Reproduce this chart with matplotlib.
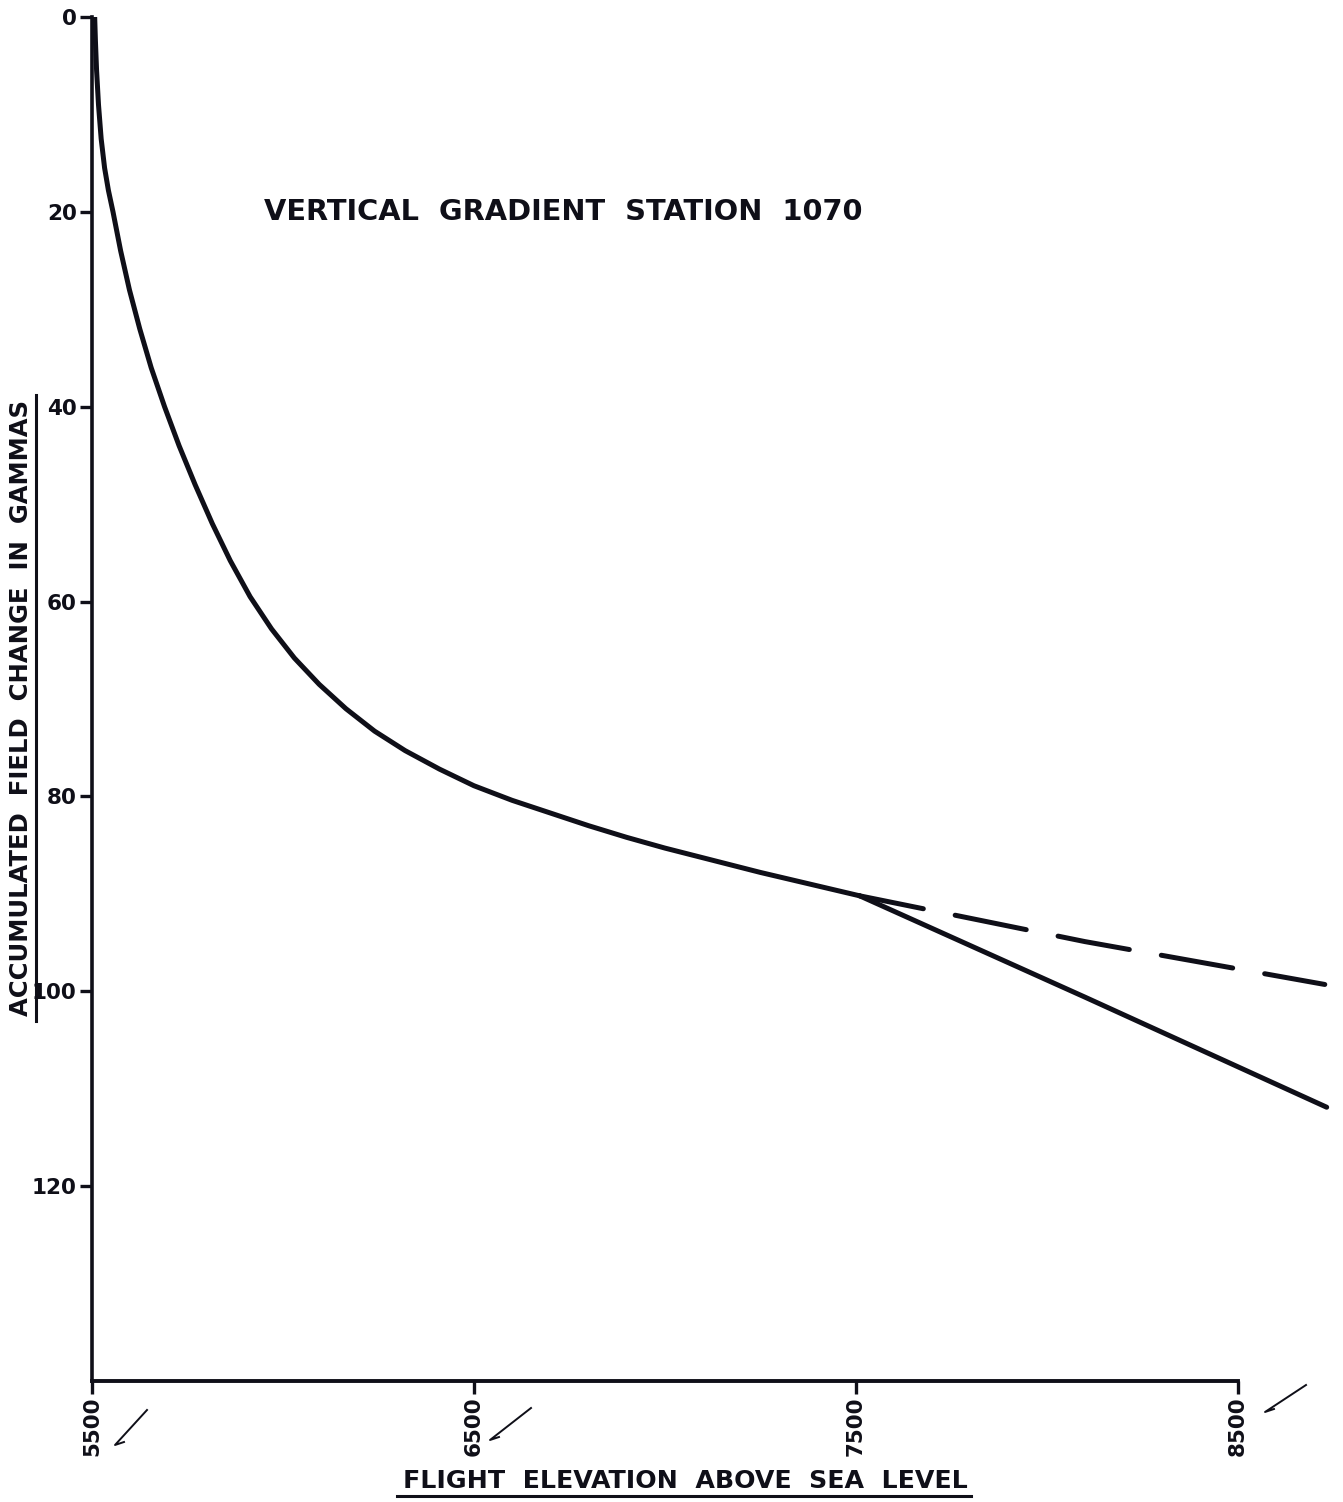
import matplotlib
matplotlib.use("Agg")
import matplotlib.pyplot as plt
from matplotlib.lines import Line2D

# ---- data ----
elev_main = [5507, 5509, 5512, 5517, 5524, 5533, 5543, 5555, 5575, 5598, 5625,
             5655, 5690, 5728, 5770, 5815, 5862, 5914, 5970, 6030, 6095,
             6165, 6240, 6320, 6410, 6500, 6600, 6700, 6800, 6900, 7000,
             7120, 7250, 7380, 7510]
field_main = [0, 2.5, 5.5, 9, 12.5, 15.5, 17.8, 20, 24, 28, 32,
              36, 40, 44, 48, 52, 55.8, 59.5, 62.8, 65.8, 68.5,
              71, 73.3, 75.3, 77.2, 78.9, 80.4, 81.7, 83.0, 84.2, 85.3,
              86.5, 87.8, 89.0, 90.2]

elev_solid_ext = [7510, 8100, 8733]
field_solid_ext = [90.2, 100.6, 111.9]

elev_dashed = [7510, 8100, 8728]
field_dashed = [90.2, 94.9, 99.3]

x_ticks = [5500, 6500, 7500, 8500]
x_ticklabels = ["5500", "6500", "7500", "8500"]
y_ticks = [0, 20, 40, 60, 80, 100, 120]
y_ticklabels = ["0", "20", "40", "60", "80", "100", "120"]

title = "VERTICAL  GRADIENT  STATION  1070"
xlabel = "FLIGHT  ELEVATION  ABOVE  SEA  LEVEL"
ylabel = "ACCUMULATED  FIELD  CHANGE  IN  GAMMAS"

# ---- figure ----
W, H = 1343, 1502
plt.rcParams['font.family'] = ['DejaVu Sans']
fig = plt.figure(figsize=(W / 100, H / 100), dpi=100)
fig.patch.set_facecolor("white")

def fx(px):
    return px / W

def fy(py):
    return 1 - py / H

left, right = 92, 1337
top, bottom = 17, 1381
ax = fig.add_axes([fx(left), fy(bottom), (right - left) / W, (bottom - top) / H])
ax.set_xlim(5500, 8760)
ax.set_ylim(140, 0)

ink = "#0f0f18"
ax.plot(elev_main, field_main, color=ink, lw=3.6, solid_capstyle="round",
        solid_joinstyle="round")
ax.plot(elev_solid_ext, field_solid_ext, color=ink, lw=3.6, solid_capstyle="round",
        solid_joinstyle="round")
ax.plot(elev_dashed, field_dashed, color=ink, lw=3.6, linestyle=(1.5, (14.5, 6.5)),
        dash_capstyle="round")

for s in ["top", "right"]:
    ax.spines[s].set_visible(False)
ax.spines["left"].set_linewidth(2.6)
ax.spines["bottom"].set_linewidth(2.8)
ax.spines["left"].set_color(ink)
ax.spines["bottom"].set_color(ink)
ax.spines["bottom"].set_bounds(5500, 8500)
ax.spines["left"].set_bounds(0, 140)

ax.set_xticks(x_ticks)
ax.set_xticklabels(x_ticklabels, rotation=90, fontsize=15.5, fontweight="bold",
                   color=ink)
ax.set_yticks(y_ticks)
ax.set_yticklabels(y_ticklabels, fontsize=15.5, fontweight="bold", color=ink)
ax.tick_params(axis="both", direction="out", length=9, width=2.4, color=ink, pad=2)

# title
fig.text(fx(563), fy(212), title, ha="center", va="center", fontsize=20.8,
         fontweight="bold", color=ink)

# axis labels (with underlines)
xl = fig.text(fx(685), fy(1481), xlabel, ha="center", va="center", fontsize=18.2,
              fontweight="bold", color=ink)
yl = fig.text(fx(21), fy(708), ylabel, ha="center", va="center", rotation=90,
              fontsize=17.5, fontweight="bold", color=ink)

fig.canvas.draw()
r = fig.canvas.get_renderer()
bx = xl.get_window_extent(r).transformed(fig.transFigure.inverted())
fig.add_artist(Line2D([bx.x0 - 0.004, bx.x1 + 0.003], [bx.y0 - 0.002, bx.y0 - 0.002],
                      transform=fig.transFigure, color=ink, lw=2.2))
by = yl.get_window_extent(r).transformed(fig.transFigure.inverted())
fig.add_artist(Line2D([by.x1 + 0.002, by.x1 + 0.002], [by.y0 - 0.003, by.y1 + 0.003],
                      transform=fig.transFigure, color=ink, lw=2.2))

# hand-drawn check marks next to the x tick labels
for (x0, y0, x1, y1) in [(115, 1445, 147, 1410), (490, 1440, 531, 1408),
                          (1265, 1412, 1306, 1385)]:
    fig.add_artist(Line2D([fx(x0 + 9), fx(x0), fx(x1)], [fy(y0 - 3), fy(y0), fy(y1)],
                          transform=fig.transFigure, color=ink, lw=1.4))

fig.savefig("out.png", dpi=100, facecolor="white")
